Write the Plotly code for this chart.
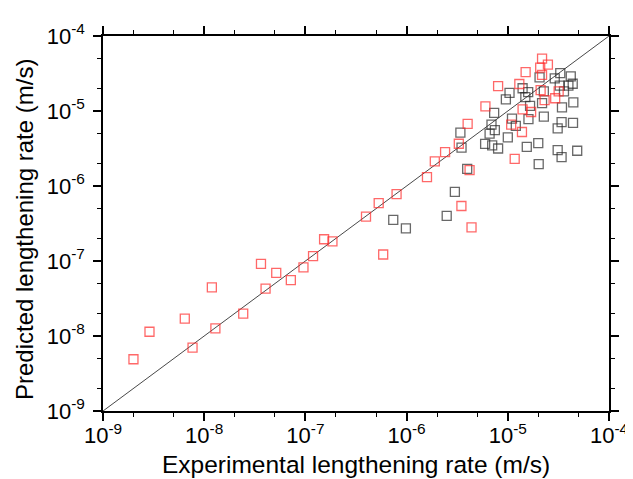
import plotly.graph_objects as go

# Red series (experimental, predicted) in m/s
red_x = [2.0e-9, 2.88e-9, 6.43e-9, 7.67e-9, 1.19e-8, 1.29e-8, 2.43e-8, 3.64e-8, 4.04e-8, 5.15e-8,
         7.18e-8, 9.57e-8, 1.19e-7, 1.53e-7, 1.85e-7, 3.97e-7, 5.3e-7, 7.96e-7, 5.87e-7, 1.59e-6,
         1.9e-6, 2.4e-6, 3.28e-6, 4.01e-6, 4.19e-6, 3.48e-6, 4.38e-6, 6.01e-6, 8.02e-6, 1.08e-5,
         1.17e-5, 1.3e-5, 1.38e-5, 1.4e-5, 1.5e-5, 1.7e-5, 2.09e-5, 2.18e-5, 2.49e-5, 2.18e-5,
         2.11e-5, 2.31e-5, 2.94e-5, 3.18e-5]
red_y = [4.9e-9, 1.14e-8, 1.71e-8, 7.0e-9, 4.46e-8, 1.26e-8, 1.99e-8, 9.14e-8, 4.28e-8, 6.95e-8,
         5.57e-8, 8.2e-8, 1.16e-7, 1.95e-7, 1.83e-7, 3.91e-7, 5.91e-7, 7.78e-7, 1.22e-7, 1.31e-6,
         2.13e-6, 2.83e-6, 3.66e-6, 6.75e-6, 1.63e-6, 5.41e-7, 2.8e-7, 1.15e-5, 2.15e-5, 6.6e-6,
         2.3e-6, 2.29e-5, 5.25e-6, 1.05e-5, 3.29e-5, 9.7e-6, 3.79e-5, 4.98e-5, 4.15e-5, 3.04e-5,
         1.9e-5, 1.4e-5, 1.48e-5, 1.83e-5]

# Black series
black_x = [3.4e-6, 3.49e-6, 3.97e-6, 3.0e-6, 2.49e-6, 7.38e-7, 9.84e-7, 5.97e-6, 7.01e-6, 8.02e-6,
           6.61e-6, 7.45e-6, 6.9e-6, 7.33e-6, 1.0e-5, 9.57e-6, 1.04e-5, 1.1e-5, 1.2e-5, 1.4e-5,
           1.49e-5, 1.59e-5, 1.66e-5, 1.6e-5, 1.54e-5, 2.0e-5, 2.02e-5, 2.06e-5, 2.27e-5, 2.18e-5,
           2.27e-5, 2.91e-5, 3.3e-5, 4.19e-5, 4.38e-5, 3.97e-5, 3.26e-5, 3.59e-5, 4.44e-5, 3.43e-5,
           3.4e-5, 4.41e-5, 3.11e-5, 3.11e-5, 3.4e-5, 4.85e-5]
black_y = [5.14e-6, 3.24e-6, 1.69e-6, 8.34e-7, 3.99e-7, 3.54e-7, 2.72e-7, 3.65e-6, 3.49e-6, 3.16e-6,
           4.98e-6, 5.57e-6, 6.6e-6, 9.42e-6, 4.46e-6, 1.43e-5, 1.74e-5, 7.92e-6, 6.35e-6, 2.01e-5,
           1.53e-5, 1.79e-5, 1.17e-5, 7.78e-6, 3.33e-6, 3.72e-6, 1.96e-6, 2.8e-5, 1.83e-5, 1.27e-5,
           8.41e-6, 2.72e-5, 3.19e-5, 2.89e-5, 2.31e-5, 2.18e-5, 2.18e-5, 1.83e-5, 1.3e-5, 1.12e-5,
           7.1e-6, 6.95e-6, 5.85e-6, 3.0e-6, 2.43e-6, 2.95e-6]

diag = [1e-9, 1e-4]
tick_vals = [1e-9, 1e-8, 1e-7, 1e-6, 1e-5, 1e-4]
tick_text = ["10<sup>-9</sup>", "10<sup>-8</sup>", "10<sup>-7</sup>", "10<sup>-6</sup>",
             "10<sup>-5</sup>", "10<sup>-4</sup>"]
x_title = "Experimental lengthening rate (m/s)"
y_title = "Predicted lengthening rate (m/s)"

FONT = "Liberation Sans, Arial, sans-serif"

fig = go.Figure()
fig.add_trace(go.Scatter(x=diag, y=diag, mode="lines",
                         line=dict(color="#333333", width=0.9), showlegend=False))
fig.add_trace(go.Scatter(x=black_x, y=black_y, mode="markers",
                         marker=dict(symbol="square-open", size=9,
                                     color="rgba(40,40,40,0.7)", line=dict(width=1.3)),
                         showlegend=False))
fig.add_trace(go.Scatter(x=red_x, y=red_y, mode="markers",
                         marker=dict(symbol="square-open", size=9,
                                     color="rgba(255,40,40,0.7)", line=dict(width=1.3)),
                         showlegend=False))

axis_common = dict(
    type="log", range=[-9, -4], tickvals=tick_vals, ticktext=tick_text,
    ticks="outside", ticklen=8, tickwidth=1.5, tickcolor="black",
    showline=True, linecolor="black", linewidth=1.5, mirror="allticks",
    showgrid=False, zeroline=False,
    tickfont=dict(family=FONT, size=22, color="black"),
    minor=dict(ticks="outside", ticklen=4, tickwidth=1, tickcolor="black", showgrid=False),
)

fig.update_xaxes(**axis_common, ticklabelstandoff=-4)
fig.update_yaxes(**axis_common, ticklabelstandoff=4)

fig.add_annotation(text=x_title, xref="paper", yref="paper", x=0.5, y=-0.143,
                   xanchor="center", yanchor="middle", showarrow=False,
                   font=dict(family=FONT, size=24.5, color="black"))
fig.add_annotation(text=y_title, xref="paper", yref="paper", x=-0.155, y=0.484,
                   xanchor="center", yanchor="middle", showarrow=False, textangle=-90,
                   font=dict(family=FONT, size=24, color="black"))

fig.update_layout(width=633, height=479,
                  margin=dict(l=95, r=18, t=23, b=76),
                  plot_bgcolor="white", paper_bgcolor="white")

fig.write_html("out.html")
